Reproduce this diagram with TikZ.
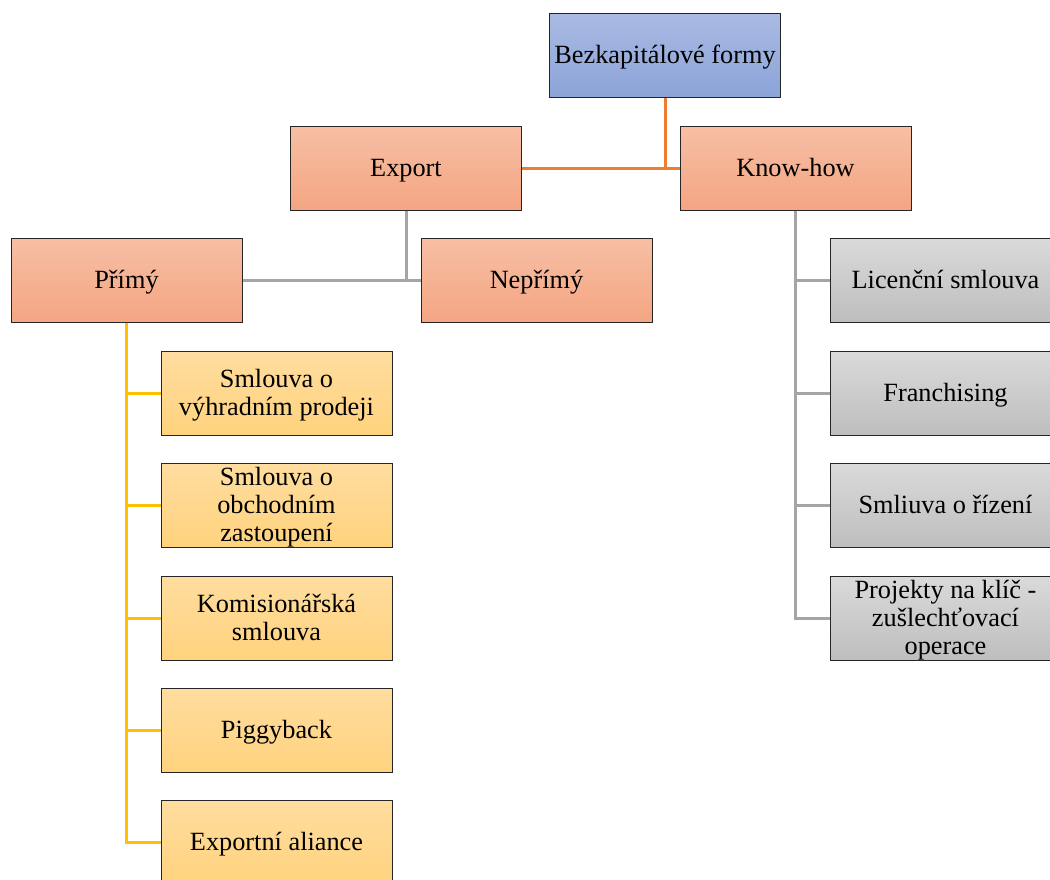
\documentclass[tikz,border=0pt]{standalone}
\usepackage{fontspec}
\setmainfont{Liberation Serif}
\definecolor{linkorange}{HTML}{ED7D31}
\definecolor{linkgrey}{HTML}{A5A5A5}
\definecolor{linkyellow}{HTML}{FFC000}
\definecolor{blueTop}{RGB}{170,186,226}
\definecolor{blueBot}{RGB}{140,164,217}
\definecolor{salmonTop}{RGB}{247,191,165}
\definecolor{salmonBot}{RGB}{244,165,130}
\definecolor{yellowTop}{RGB}{255,221,160}
\definecolor{yellowBot}{RGB}{255,211,125}
\definecolor{greyTop}{RGB}{218,218,218}
\definecolor{greyBot}{RGB}{190,190,190}
% centred label with struts, so every text sits at the same offset in its box
\newcommand{\topstrut}{\rule{0pt}{\dimexpr0.7\baselineskip+6pt\relax}}
\newcommand{\boxlabel}[1]{\parbox{231pt}{\centering\topstrut#1\strut}}
\tikzset{
  box/.style={draw=black!85, line width=1pt, rectangle, minimum width=231pt,
    minimum height=84pt, inner sep=0pt},
  boxtext/.style={inner sep=0pt, font=\fontsize{26.3}{28.3}\selectfont},
  bluebox/.style={box, top color=blueTop, bottom color=blueBot},
  salmonbox/.style={box, top color=salmonTop, bottom color=salmonBot},
  yellowbox/.style={box, top color=yellowTop, bottom color=yellowBot},
  greybox/.style={box, top color=greyTop, bottom color=greyBot},
  orangelink/.style={draw=linkorange, line width=3pt},
  greylink/.style={draw=linkgrey, line width=3pt},
  yellowlink/.style={draw=linkyellow, line width=3pt},
}
\begin{document}
\begin{tikzpicture}[x=1pt, y=-1pt]
\useasboundingbox (0,0) rectangle (1050,879);
\clip (0,0) rectangle (1050,879);

% boxes
\node[bluebox, label={[boxtext]center:\boxlabel{Bezkapitálové formy}}] (top) at (665,55) {};
\node[salmonbox, label={[boxtext]center:\boxlabel{Export}}] (export) at (406,168) {};
\node[salmonbox, label={[boxtext]center:\boxlabel{Know-how}}] (knowhow) at (795.5,168) {};
\node[salmonbox, label={[boxtext]center:\boxlabel{Přímý}}] (primy) at (126.5,280) {};
\node[salmonbox, label={[boxtext]center:\boxlabel{Nepřímý}}] (neprimy) at (536.5,280) {};

\node[yellowbox, label={[boxtext]center:\boxlabel{Smlouva o\\výhradním prodeji}}] (y1) at (276.5,393) {};
\node[yellowbox, label={[boxtext]center:\boxlabel{Smlouva o\\obchodním\\zastoupení}}] (y2) at (276.5,505) {};
\node[yellowbox, label={[boxtext]center:\boxlabel{Komisionářská\\smlouva}}] (y3) at (276.5,618) {};
\node[yellowbox, label={[boxtext]center:\boxlabel{Piggyback}}] (y4) at (276.5,730) {};
\node[yellowbox, label={[boxtext]center:\boxlabel{Exportní aliance}}] (y5) at (276.5,842) {};

\node[greybox, label={[boxtext]center:\boxlabel{Licenční smlouva}}] (g1) at (945.5,280) {};
\node[greybox, label={[boxtext]center:\boxlabel{Franchising}}] (g2) at (945.5,393) {};
\node[greybox, label={[boxtext]center:\boxlabel{Smliuva o řízení}}] (g3) at (945.5,505) {};
\node[greybox, label={[boxtext]center:\boxlabel{Projekty na klíč -\\zušlechťovací\\operace}}] (g4) at (945.5,618) {};

% top level links
\draw[orangelink] (top.south) -- (top.south |- export.east);
\draw[orangelink] (export.east) -- (knowhow.west);

% export split
\draw[greylink] (export.south) -- (export.south |- primy.east);
\draw[greylink] (primy.east) -- (neprimy.west);

% know-how branches
\draw[greylink] (knowhow.south) |- (g4.west);
\foreach \g in {g1,g2,g3}
  \draw[greylink] (knowhow.south |- \g.west) -- (\g.west);

% direct export branches
\draw[yellowlink] (primy.south) |- (y5.west);
\foreach \y in {y1,y2,y3,y4}
  \draw[yellowlink] (primy.south |- \y.west) -- (\y.west);
\end{tikzpicture}
\end{document}
